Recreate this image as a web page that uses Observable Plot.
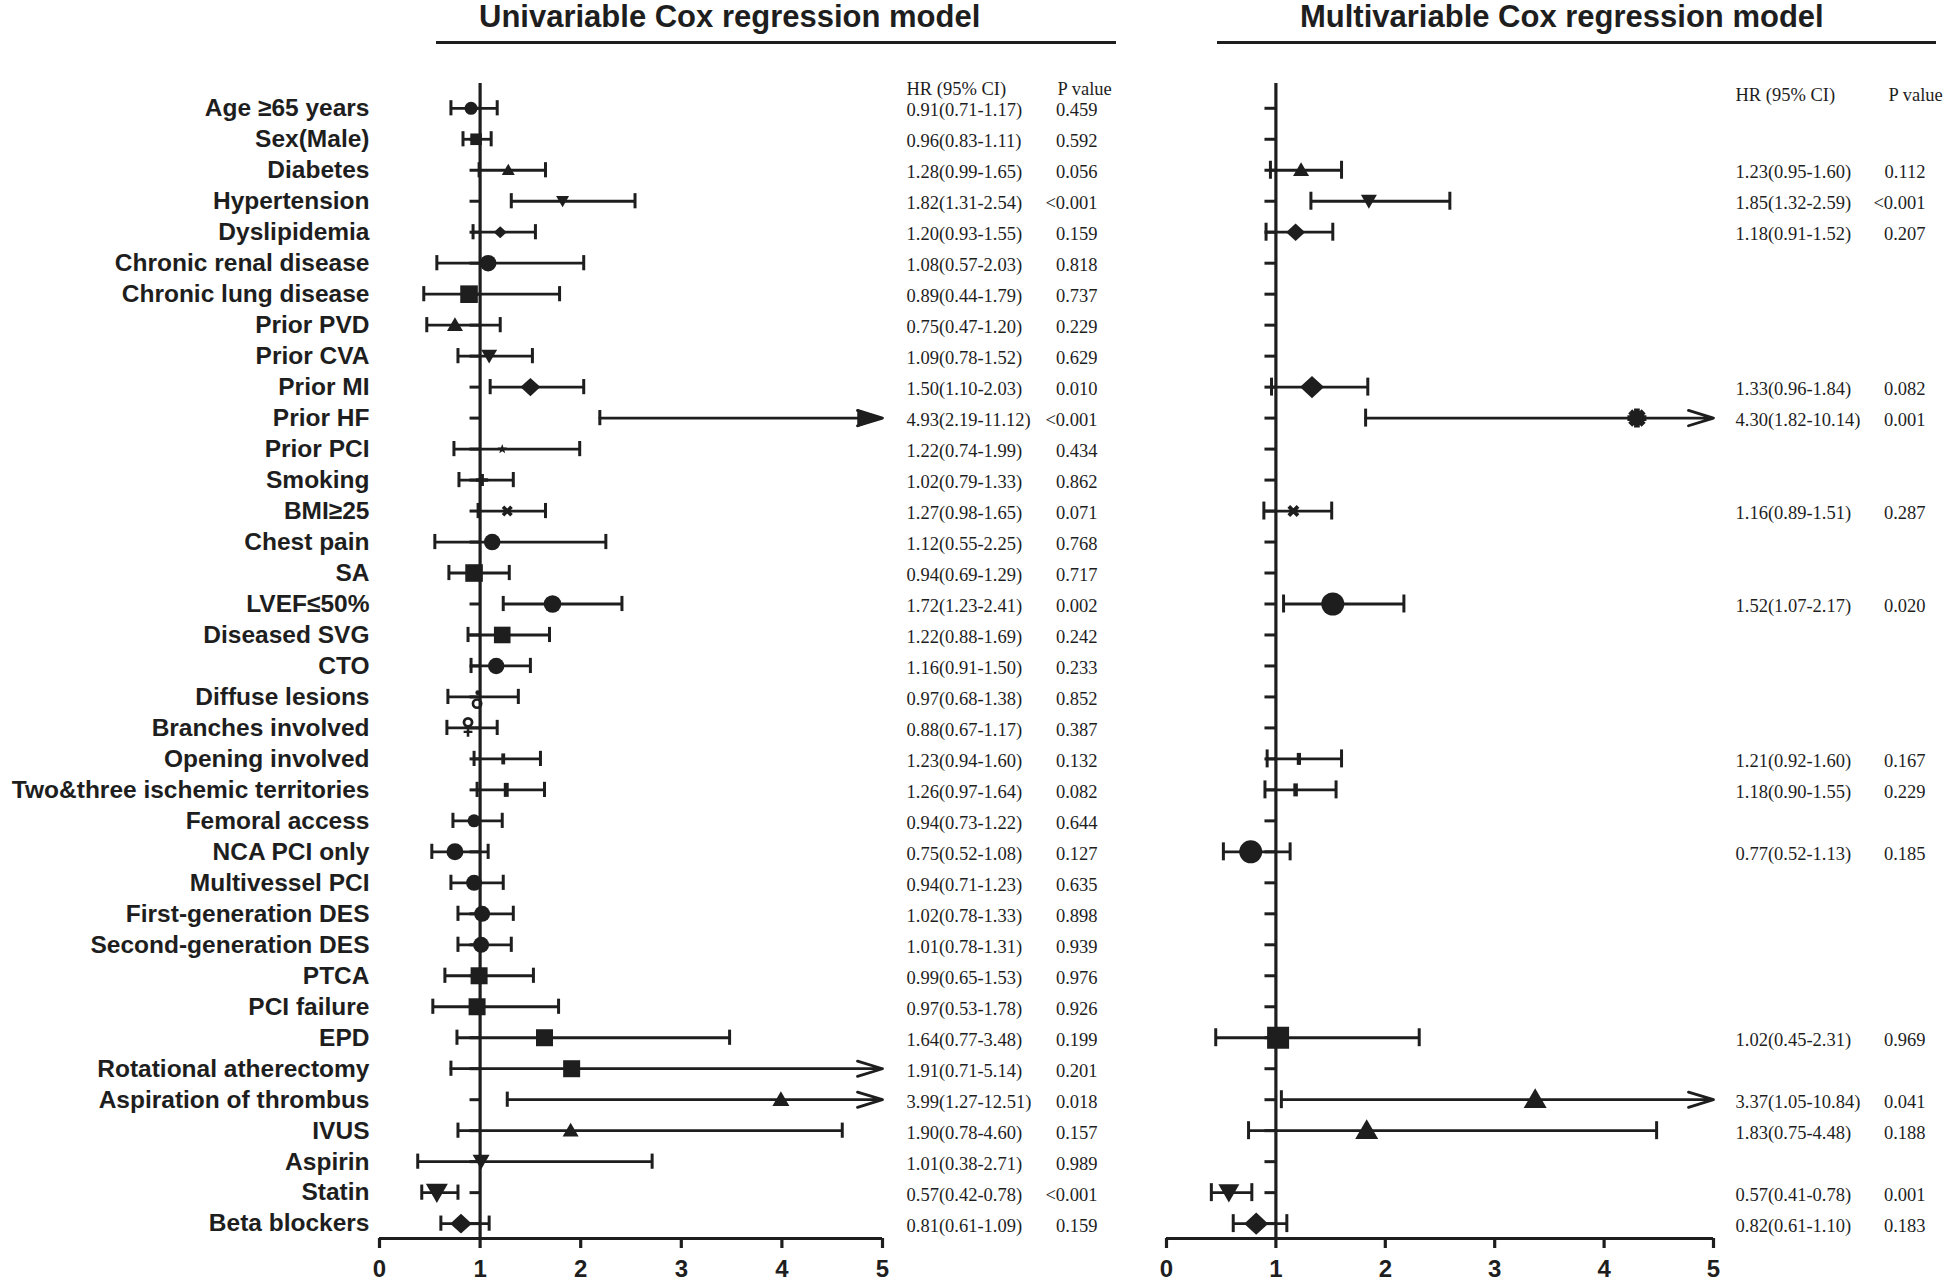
<!DOCTYPE html>
<html>
<head>
<meta charset="utf-8">
<script src="https://cdn.jsdelivr.net/npm/d3@7"></script>
<script src="https://cdn.jsdelivr.net/npm/@observablehq/plot@0.6"></script>
<style>
html, body { margin: 0; padding: 0; background: #fff; }
#page { position: relative; width: 1946px; height: 1282px; overflow: hidden; background: #fff; }
.title { position: absolute; top: 1px; font-family: 'Liberation Sans', Arial, Helvetica, sans-serif; font-weight: bold; font-size: 31px; line-height: 31px; color: #1e1e1e; white-space: nowrap; }
.hline { position: absolute; top: 41px; height: 3px; background: #1e1e1e; }
#page svg { position: absolute; top: 0; }
</style>
</head>
<body>
<div id="page">
  <div class="title" style="left:479px">Univariable Cox regression model</div>
  <div class="hline" style="left:436px;width:680px"></div>
  <div class="title" style="left:1300px">Multivariable Cox regression model</div>
  <div class="hline" style="left:1217px;width:719px"></div>
</div>
<script>
// ---------------- data ----------------
const labels = ["Age ≥65 years","Sex(Male)","Diabetes","Hypertension","Dyslipidemia","Chronic renal disease","Chronic lung disease","Prior PVD","Prior CVA","Prior MI","Prior HF","Prior PCI","Smoking","BMI≥25","Chest pain","SA","LVEF≤50%","Diseased SVG","CTO","Diffuse lesions","Branches involved","Opening involved","Two&three ischemic territories","Femoral access","NCA PCI only","Multivessel PCI","First-generation DES","Second-generation DES","PTCA","PCI failure","EPD","Rotational atherectomy","Aspiration of thrombus","IVUS","Aspirin","Statin","Beta blockers"];

const uniHR = [0.91,0.96,1.28,1.82,1.20,1.08,0.89,0.75,1.09,1.50,4.93,1.22,1.02,1.27,1.12,0.94,1.72,1.22,1.16,0.97,0.88,1.23,1.26,0.94,0.75,0.94,1.02,1.01,0.99,0.97,1.64,1.91,3.99,1.90,1.01,0.57,0.81];
const uniLo = [0.71,0.83,0.99,1.31,0.93,0.57,0.44,0.47,0.78,1.10,2.19,0.74,0.79,0.98,0.55,0.69,1.23,0.88,0.91,0.68,0.67,0.94,0.97,0.73,0.52,0.71,0.78,0.78,0.65,0.53,0.77,0.71,1.27,0.78,0.38,0.42,0.61];
const uniHi = [1.17,1.11,1.65,2.54,1.55,2.03,1.79,1.20,1.52,2.03,11.12,1.99,1.33,1.65,2.25,1.29,2.41,1.69,1.50,1.38,1.17,1.60,1.64,1.22,1.08,1.23,1.33,1.31,1.53,1.78,3.48,5.14,12.51,4.60,2.71,0.78,1.09];
const uniP  = ["0.459","0.592","0.056","<0.001","0.159","0.818","0.737","0.229","0.629","0.010","<0.001","0.434","0.862","0.071","0.768","0.717","0.002","0.242","0.233","0.852","0.387","0.132","0.082","0.644","0.127","0.635","0.898","0.939","0.976","0.926","0.199","0.201","0.018","0.157","0.989","<0.001","0.159"];

const multiHR = [null,null,1.23,1.85,1.18,null,null,null,null,1.33,4.30,null,null,1.16,null,null,1.52,null,null,null,null,1.21,1.18,null,0.77,null,null,null,null,null,1.02,null,3.37,1.83,null,0.57,0.82];
const multiLo = [null,null,0.95,1.32,0.91,null,null,null,null,0.96,1.82,null,null,0.89,null,null,1.07,null,null,null,null,0.92,0.90,null,0.52,null,null,null,null,null,0.45,null,1.05,0.75,null,0.41,0.61];
const multiHi = [null,null,1.60,2.59,1.52,null,null,null,null,1.84,10.14,null,null,1.51,null,null,2.17,null,null,null,null,1.60,1.55,null,1.13,null,null,null,null,null,2.31,null,10.84,4.48,null,0.78,1.10];
const multiP  = [null,null,"0.112","<0.001","0.207",null,null,null,null,"0.082","0.001",null,null,"0.287",null,null,"0.020",null,null,null,null,"0.167","0.229",null,"0.185",null,null,null,null,null,"0.969",null,"0.041","0.188",null,"0.001","0.183"];

const xTicks = [0, 1, 2, 3, 4, 5];
const headerHR = "HR (95% CI)";
const headerP = "P value";

// ---------------- marker styles (shape + half-width in px) ----------------
const uniShape = ["circle","square","triangle","triangleDown","diamond","circle","square","triangle","triangleDown","diamond","wedge","star","plus","times","circle","square","circle","square","circle","ring","female","bar","bar","circle","circle","circle","circle","circle","square","square","square","square","triangle","triangle","triangleDown","triangleDown","diamond"];
const uniSize  = [6.5,5.8,6.5,6.5,6.5,8.3,8.8,8,8,10,7,5,6,6,8.3,8.8,8.8,8.3,8.2,7,8,5.5,7,6.5,8.5,8,8,8,8.5,8.5,8.5,8.5,8.5,8,8.5,11,10.8];
const multiShape = ["circle","square","triangle","triangleDown","diamond","circle","square","triangle","triangleDown","diamond","asterisk","star","plus","times","circle","square","circle","square","circle","ring","female","bar","bar","circle","circle","circle","circle","circle","square","square","square","square","triangle","triangle","triangleDown","triangleDown","diamond"];
const multiSize  = [0,0,8,8,9.5,0,0,0,0,12,9.5,0,0,6.5,0,0,11.5,0,0,0,0,6,6.5,0,11.5,0,0,0,0,0,11,0,11.5,11.5,0,10.5,12];

// ---------------- custom symbols ----------------
const R = s => Math.sqrt(s / Math.PI);
function poly(c, pts) { c.moveTo(pts[0][0], pts[0][1]); for (let k = 1; k < pts.length; k++) c.lineTo(pts[k][0], pts[k][1]); c.closePath(); }
function bar(c, hl, hw, ang) {
  const ca = Math.cos(ang), sa = Math.sin(ang);
  poly(c, [[-hl,-hw],[hl,-hw],[hl,hw],[-hl,hw]].map(([x,y]) => [x*ca - y*sa, x*sa + y*ca]));
}
function disc(c, cx, cy, r) { c.moveTo(cx + r, cy); c.arc(cx, cy, r, 0, 2*Math.PI); c.closePath(); }
function hole(c, cx, cy, r) { c.moveTo(cx + r, cy); c.arc(cx, cy, r, 0, 2*Math.PI, true); c.closePath(); }
const SYMBOLS = {
  circle: {draw(c, s) { disc(c, 0, 0, R(s)); }},
  square: {draw(c, s) { const r = R(s); c.rect(-r, -r, 2*r, 2*r); }},
  triangle: {draw(c, s) { const r = R(s); poly(c, [[0,-1.0*r],[r,0.73*r],[-r,0.73*r]]); }},
  triangleDown: {draw(c, s) { const r = R(s); poly(c, [[-r,-0.8*r],[r,-0.8*r],[0,0.93*r]]); }},
  diamond: {draw(c, s) { const r = R(s); poly(c, [[0,-0.92*r],[r,0],[0,0.92*r],[-r,0]]); }},
  star: {draw(c, s) { const r = R(s); const pts = []; for (let k = 0; k < 10; k++) { const a = -Math.PI/2 + k*Math.PI/5, rr = k % 2 ? 0.42*r : r; pts.push([rr*Math.cos(a), rr*Math.sin(a)]); } poly(c, pts); }},
  plus: {draw(c, s) { const r = R(s); bar(c, r, 0.3*r, 0); bar(c, r, 0.3*r, Math.PI/2); }},
  times: {draw(c, s) { const r = R(s); bar(c, r, 0.3*r, Math.PI/4); bar(c, r, 0.3*r, -Math.PI/4); }},
  asterisk: {draw(c, s) { const r = R(s); for (let k = 0; k < 4; k++) bar(c, r, 0.3*r, k*Math.PI/4); }},
  wedge: {draw(c, s) { const r = R(s); poly(c, [[1.0*r,0],[-2.6*r,-1.3*r],[-2.6*r,1.3*r]]); }},
  ring: {draw(c, s) { const r = R(s); disc(c, 0, 0.95*r, 0.78*r); hole(c, 0, 0.95*r, 0.4*r); disc(c, 0.1*r, -0.6*r, 0.35*r); }},
  female: {draw(c, s) { const r = R(s); disc(c, 0, -0.7*r, 0.68*r); hole(c, 0, -0.7*r, 0.33*r); c.rect(-0.16*r, -0.05*r, 0.32*r, 1.15*r); c.rect(-0.55*r, 0.35*r, 1.1*r, 0.3*r); }},
  bar: {draw(c, s) { const r = R(s); c.rect(-0.35*r, -r, 0.7*r, 2*r); }}
};

// ---------------- build ----------------
const INK = "#1e1e1e";
const SANS = "'Liberation Sans', Arial, Helvetica, sans-serif";
const SERIF = "'Liberation Serif', 'Times New Roman', Times, serif";
const yDomain = [-0.8, 36.48];

function rowsFor(hr, lo, hi, p, shape, size) {
  return labels.map((label, i) => ({i, label, hr: hr[i], lo: lo[i], hi: hi[i], p: p[i], shape: shape[i], size: size[i]}))
    .filter(d => d.hr != null);
}

function panel({rows, width, marginLeft, marginRight, showLabels, tickLen, capHalf, hrDx, pDx, pHeadDx, headerDy, textDy}) {
  const xMax = xTicks[xTicks.length - 1];
  const capped = rows.filter(d => d.hi <= xMax);
  const arrowed = rows.filter(d => d.hi > xMax);
  const idx = d3.range(labels.length);
  return Plot.plot({
    width, height: 1282, marginLeft, marginRight, marginTop: 83, marginBottom: 44,
    style: {fontFamily: SANS, color: INK, background: "transparent", overflow: "visible"},
    x: {domain: [0, xMax]},
    y: showLabels ? {domain: yDomain, reverse: true} : {domain: yDomain, reverse: true, axis: null},
    r: {type: "linear", domain: [0, 20], range: [0, 20]},
    marks: [
      Plot.ruleY([yDomain[1]], {x1: 0, x2: xMax, stroke: INK, strokeWidth: 3.2}),
      Plot.axisX({ticks: xTicks, tickFormat: d => String(d), tickSize: 10, tickPadding: 11, fontSize: 24, fontWeight: "bold", strokeWidth: 3.2, label: null}),
      showLabels ? Plot.axisY({ticks: idx, tickFormat: i => labels[i], tickSize: 0, tickPadding: 10, fontSize: 24.5, fontWeight: "bold", label: null}) : null,
      Plot.ruleX([1], {stroke: INK, strokeWidth: 3.2}),
      Plot.ruleY(idx, {x1: 1 - tickLen, x2: 1, stroke: INK, strokeWidth: 3}),
      Plot.ruleY(capped, {y: "i", x1: "lo", x2: "hi", stroke: INK, strokeWidth: 2.8}),
      Plot.arrow(arrowed, {x1: "lo", y1: "i", x2: xMax, y2: "i", stroke: INK, strokeWidth: 2.8, headAngle: 34, headLength: 14}),
      Plot.ruleX(rows, {x: "lo", y1: d => d.i - capHalf, y2: d => d.i + capHalf, stroke: INK, strokeWidth: 3}),
      Plot.ruleX(capped, {x: "hi", y1: d => d.i - capHalf, y2: d => d.i + capHalf, stroke: INK, strokeWidth: 3}),
      Plot.dot(rows, {x: "hr", y: "i", r: "size", symbol: d => SYMBOLS[d.shape], fill: INK, stroke: "none"}),
      Plot.text(rows, {x: xMax, y: "i", text: d => `${d.hr.toFixed(2)}(${d.lo.toFixed(2)}-${d.hi.toFixed(2)})`, dx: hrDx, dy: textDy, textAnchor: "start", fontFamily: SERIF, fontSize: 18.5, fill: INK}),
      Plot.text(rows, {x: xMax, y: "i", text: "p", dx: pDx, dy: textDy, textAnchor: "end", fontFamily: SERIF, fontSize: 18.5, fill: INK}),
      Plot.text([headerHR], {x: xMax, frameAnchor: "top", text: d => d, dx: hrDx, dy: headerDy, textAnchor: "start", fontFamily: SERIF, fontSize: 18.5, fill: INK}),
      Plot.text([headerP], {x: xMax, frameAnchor: "top", text: d => d, dx: pHeadDx, dy: headerDy, textAnchor: "start", fontFamily: SERIF, fontSize: 18.5, fill: INK})
    ]
  });
}

const page = document.getElementById("page");

const left = panel({
  rows: rowsFor(uniHR, uniLo, uniHi, uniP, uniShape, uniSize),
  width: 1140, marginLeft: 379, marginRight: 258, showLabels: true,
  tickLen: 0.1, capHalf: 0.245, hrDx: 24, pDx: 215, pHeadDx: 175, headerDy: -2, textDy: 2
});
left.style.left = "0px";
page.appendChild(left);

const right = panel({
  rows: rowsFor(multiHR, multiLo, multiHi, multiP, multiShape, multiSize),
  width: 806, marginLeft: 26, marginRight: 233, showLabels: false,
  tickLen: 0.1, capHalf: 0.29, hrDx: 22, pDx: 212, pHeadDx: 175, headerDy: 4, textDy: 2
});
right.style.left = "1140px";
page.appendChild(right);
</script>
</body>
</html>
